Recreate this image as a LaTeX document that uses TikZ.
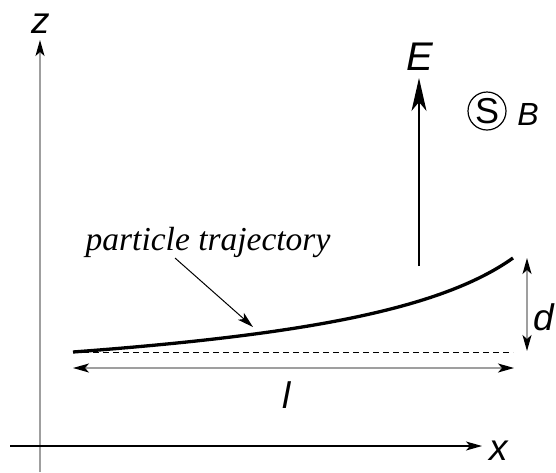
\documentclass[tikz,border=0pt]{standalone}
\usepackage{fontspec}
\setmainfont{Liberation Serif}
\setsansfont{Liberation Sans}
\usetikzlibrary{arrows.meta}

\begin{document}
\begin{tikzpicture}[x=1pt, y=-1pt,
  tip/.style={-{Stealth[length=16pt, width=9pt, inset=4pt, black]}},
  tips/.style={{Stealth[length=16pt, width=9pt, inset=4pt, black]}-{Stealth[length=16pt, width=9pt, inset=4pt, black]}},
  bigtip/.style={-{Stealth[length=33pt, width=15pt, inset=9pt, black]}},
  axislabel/.style={font=\sffamily\itshape\fontsize{37}{40}\selectfont, anchor=base, inner sep=0pt},
  greyline/.style={draw=gray!75, line width=1.3pt}]
\useasboundingbox (0,0) rectangle (556,472);

% axes
\coordinate (zfoot) at (40,472);
\coordinate (ztip) at (40,40);
\coordinate (xfoot) at (10,446);
\coordinate (xtip) at (482,446);
\draw[greyline, tip] (zfoot) -- (ztip);
\draw[line width=1.3pt, tip] (xfoot) -- (xtip);
\node[axislabel] (zlab) at (41,33) {z};
\node[axislabel] (xlab) at (499,460) {x};

% trajectory
\coordinate (start) at (73,352);
\coordinate (stop) at (513,258);
\draw[line width=3.3pt] (start) .. controls (300,335) and (440,310) .. (stop);
\coordinate (dashend) at (513,352);
\draw[line width=1pt, dash pattern=on 6pt off 4pt] (start) -- (dashend);

% length l and height d
\coordinate (lleft) at (73,368);
\coordinate (lright) at (514,368);
\draw[greyline, tips] (lleft) -- (lright);
\node[axislabel] (llab) at (287,408) {l};
\coordinate (dtop) at (527,258);
\coordinate (dbot) at (527,351);
\draw[greyline, tips] (dtop) -- (dbot);
\node[axislabel, anchor=base west] (dlab) at (533,330) {d};

% fields
\coordinate (ebase) at (419,266);
\coordinate (etip) at (419,78);
\draw[line width=1.3pt, bigtip] (ebase) -- (etip);
\node[axislabel, font=\sffamily\itshape\fontsize{40}{44}\selectfont] (elab) at (420,70) {E};
\node[circle, draw, line width=1.2pt, minimum size=38pt, inner sep=0pt,
  font=\sffamily\fontsize{36}{38}\selectfont] (spin) at (487,111) {S};
\node[axislabel, font=\sffamily\itshape\fontsize{32}{36}\selectfont] (blab) at (528,125) {B};

% label
\node[font=\itshape\fontsize{33.5}{36}\selectfont, inner sep=0pt, anchor=base] (traj) at (208,250) {particle trajectory};
\coordinate (hit) at (253,327);
\draw[line width=1pt, tip] (175,258) -- (hit);

\end{tikzpicture}
\end{document}
